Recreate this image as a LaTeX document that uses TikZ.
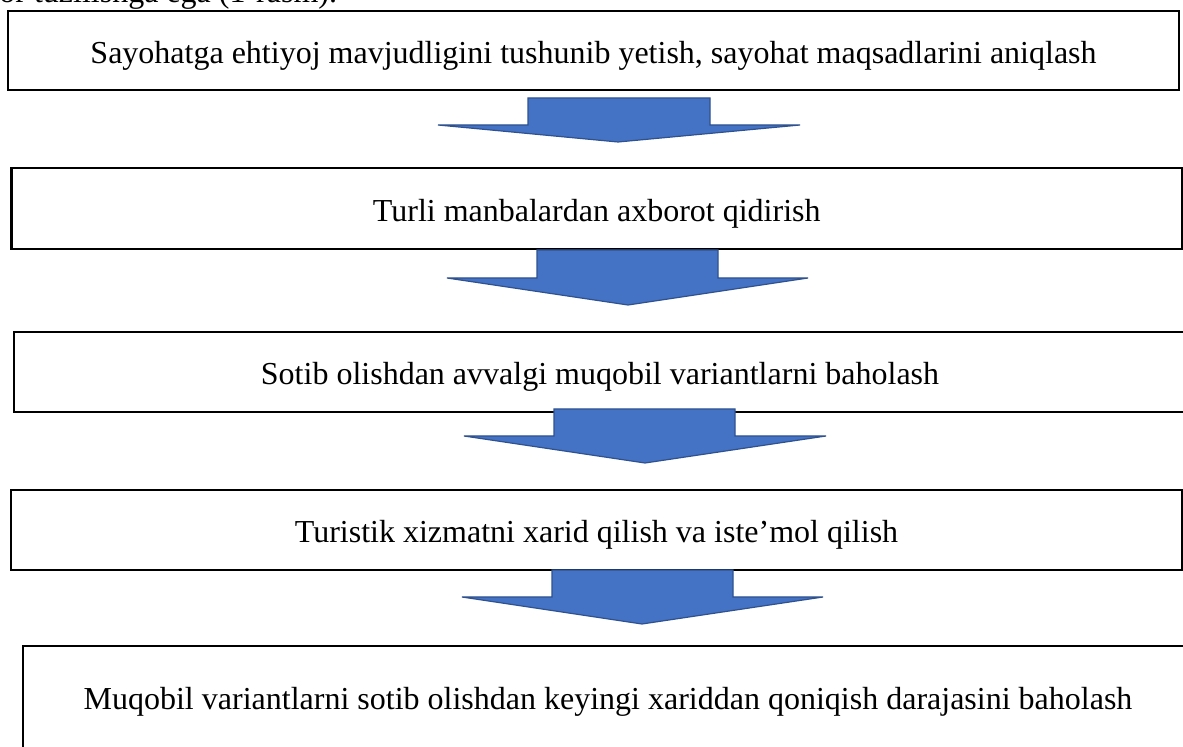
\documentclass[tikz,border=0pt]{standalone}
\usepackage{fontspec}
\setmainfont{Liberation Serif}
\definecolor{arrowfill}{HTML}{4472C4}
\definecolor{arrowline}{HTML}{2F528F}
\begin{document}
\begin{tikzpicture}[x=0.5pt,y=-0.5pt,
  every node/.style={font=\fontsize{16}{19}\selectfont},
  stagebox/.style={draw=black, line width=1.35pt, fill=white, inner sep=0pt, align=center,
    text height=16.5pt, text depth=3.5pt},
  blockarrow/.style={fill=arrowfill, draw=arrowline, line width=0.6pt, line join=miter}]
\useasboundingbox (0,0) rectangle (1183,747);
\clip (0,0) rectangle (1183,747);
\fill[white] (0,0) rectangle (1183,747);
% cut-off line of text above
\node[anchor=base west, inner sep=0pt] (top) at (-1,3) {or tuzilishga ega (1-rasm).};
% stage boxes
\node[stagebox, minimum width=585.5pt, minimum height=39.5pt] (b1) at (593.5,50.5)
  {Sayohatga ehtiyoj mavjudligini tushunib yetish, sayohat maqsadlarini aniqlash};
\node[stagebox, minimum width=585.25pt, minimum height=40.5pt] (b2) at (596.75,208.5)
  {Turli manbalardan axborot qidirish};
\node[stagebox, minimum width=586pt, minimum height=40pt] (b3) at (600,372)
  {Sotib olishdan avvalgi muqobil variantlarni baholash};
\node[stagebox, minimum width=585.5pt, minimum height=40pt] (b4) at (596.5,530)
  {Turistik xizmatni xarid qilish va iste’mol qilish};
\node[stagebox, minimum width=586pt, minimum height=70pt] (b5) at (609,716) {};
\node[inner sep=0pt, anchor=base] (t5) at (608,710)
  {Muqobil variantlarni sotib olishdan keyingi xariddan qoniqish darajasini baholash};
% block arrows
\draw[blockarrow] (528,98) -- (710,98) -- (710,125) -- (800,125) -- (618,142) -- (438,125) -- (528,125) -- cycle;
\draw[blockarrow] (537,250) -- (718,250) -- (718,278) -- (808,278) -- (628,305) -- (447,278) -- (537,278) -- cycle;
\draw[blockarrow] (554,409) -- (735,409) -- (735,436) -- (826,436) -- (645,463) -- (464,436) -- (554,436) -- cycle;
\draw[blockarrow] (552,570) -- (733,570) -- (733,597) -- (823,597) -- (642,624) -- (462,597) -- (552,597) -- cycle;
\end{tikzpicture}
\end{document}
